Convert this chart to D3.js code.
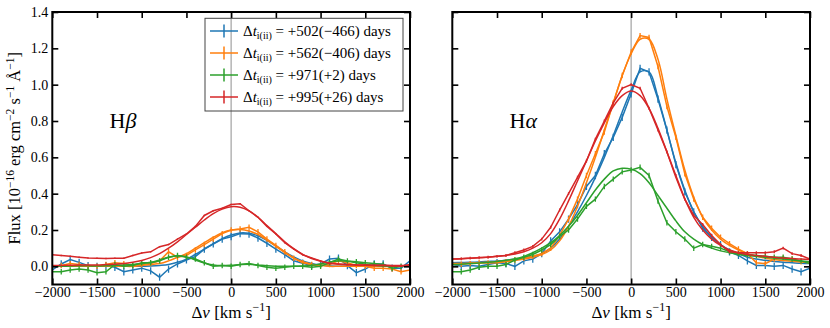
<!DOCTYPE html>
<html>
<head>
<meta charset="utf-8">
<script src="https://cdn.jsdelivr.net/npm/d3@7"></script>
<style>
  body { margin: 0; background: #fff; }
  svg { display: block; font-family: "Liberation Serif", serif; }
</style>
</head>
<body>
<div id="chart"></div>
<script>
// velocity grid (km/s)
var vel = [-2000, -1900, -1800, -1700, -1600, -1500, -1400, -1300, -1200, -1100,
           -1000, -900, -800, -700, -600, -500, -400, -300, -200, -100,
           0, 100, 200, 300, 400, 500, 600, 700, 800, 900,
           1000, 1100, 1200, 1300, 1400, 1500, 1600, 1700, 1800, 1900, 2000];

// H-beta observed and fitted profiles
var hb502 = [-0.02, 0.013, 0.037, 0.022, 0.004, 0.0, 0.004, -0.005, -0.03, -0.02,
             -0.01, -0.025, -0.06, -0.015, 0.013, 0.035, 0.053, 0.095, 0.123, 0.15,
             0.163, 0.18, 0.178, 0.156, 0.127, 0.095, 0.064, 0.031, 0.017, 0.004,
             0.013, 0.04, 0.045, 0.004, -0.035, -0.015, 0.013, 0.013, -0.01, -0.01, 0.031];
var hb502Fit = [0, 0, 0, 0, 0, 0, 0, 0, 0, 0,
                0, 0.002, 0.005, 0.01, 0.022, 0.04, 0.065, 0.095, 0.125, 0.152,
                0.172, 0.184, 0.182, 0.168, 0.143, 0.112, 0.08, 0.052, 0.03, 0.016,
                0.007, 0.003, 0, 0, 0, 0, 0, 0, 0, 0, 0];
var hb562 = [0.0, 0.005, 0.015, 0.01, 0.0, 0.0, 0.01, 0.02, 0.015, 0.005,
             0.01, 0.015, 0.03, 0.08, 0.05, 0.06, 0.09, 0.12, 0.15, 0.18,
             0.2, 0.205, 0.215, 0.19, 0.15, 0.115, 0.08, 0.045, 0.02, 0.01,
             0.005, 0.01, 0.03, 0.02, 0.005, 0.0, -0.01, -0.01, -0.015, -0.03, -0.02];
var hb562Fit = [0, 0, 0, 0, 0, 0, 0, 0, 0, 0,
                0.005, 0.01, 0.015, 0.03, 0.05, 0.07, 0.1, 0.13, 0.16, 0.185,
                0.2, 0.203, 0.195, 0.175, 0.145, 0.11, 0.075, 0.045, 0.025, 0.012,
                0.005, 0, 0, 0, 0, 0, 0, 0, 0, 0, 0];
var hb971 = [-0.03, -0.03, -0.02, -0.015, -0.02, -0.035, -0.03, 0.01, 0.0, 0.005,
             0.02, 0.02, 0.03, 0.05, 0.06, 0.05, 0.04, 0.02, 0.0, 0.005,
             0.0, 0.01, 0.015, 0.005, -0.005, -0.01, -0.005, 0.0, 0.0, -0.005,
             0.0, 0.02, 0.04, 0.03, 0.025, 0.02, 0.015, 0.01, -0.01, 0.0, 0.0];
var hb971Fit = [0.0, 0.0, 0.002, 0.003, 0.003, 0.002, 0.003, 0.005, 0.007, 0.01,
                0.015, 0.022, 0.035, 0.05, 0.058, 0.052, 0.035, 0.018, 0.007, 0.004,
                0.006, 0.01, 0.012, 0.008, 0.003, 0.0, 0.0, 0.0, 0.002, 0.006,
                0.013, 0.024, 0.03, 0.028, 0.02, 0.012, 0.006, 0.002, 0.0, 0.0, 0.0];
var hb995 = [0.064, 0.06, 0.055, 0.05, 0.046, 0.044, 0.043, 0.044, 0.045, 0.06,
             0.073, 0.08, 0.108, 0.12, 0.15, 0.178, 0.22, 0.28, 0.306, 0.32,
             0.34, 0.345, 0.306, 0.27, 0.22, 0.178, 0.13, 0.095, 0.064, 0.046,
             0.03, 0.016, 0.013, 0.01, 0.008, 0.006, 0.005, 0.004, 0.002, 0.0, 0.01];
var hb995Fit = [0.005, 0.005, 0.006, 0.007, 0.007, 0.008, 0.01, 0.012, 0.015, 0.022,
                0.032, 0.048, 0.07, 0.1, 0.135, 0.175, 0.215, 0.255, 0.29, 0.315,
                0.328, 0.325, 0.305, 0.27, 0.225, 0.18, 0.135, 0.097, 0.066, 0.043,
                0.028, 0.018, 0.012, 0.009, 0.008, 0.007, 0.006, 0.006, 0.005, 0.005, 0.005];

// H-alpha observed and fitted profiles
var ha502 = [0.01, 0.0, 0.005, 0.0, 0.01, 0.02, 0.015, 0.0, 0.03, 0.04,
             0.07, 0.14, 0.19, 0.26, 0.34, 0.44, 0.5, 0.62, 0.71, 0.82,
             0.95, 1.09, 1.07, 0.92, 0.75, 0.56, 0.41, 0.3, 0.21, 0.16,
             0.12, 0.08, 0.06, 0.03, 0.005, 0.005, 0.0, 0.005, -0.015, -0.03, -0.01];
var ha502Fit = [0.02, 0.021, 0.022, 0.024, 0.027, 0.03, 0.034, 0.039, 0.045, 0.055,
                0.07, 0.1, 0.15, 0.22, 0.3, 0.39, 0.49, 0.6, 0.72, 0.85,
                0.97, 1.07, 1.07, 0.93, 0.75, 0.57, 0.42, 0.3, 0.22, 0.16,
                0.12, 0.09, 0.07, 0.05, 0.04, 0.033, 0.027, 0.023, 0.02, 0.017, 0.015];
var ha562 = [0.01, 0.012, 0.015, 0.02, 0.018, 0.02, 0.025, 0.035, 0.045, 0.055,
             0.07, 0.1, 0.17, 0.26, 0.37, 0.5, 0.62, 0.74, 0.9, 1.05,
             1.18, 1.27, 1.26, 1.1, 0.88, 0.71, 0.51, 0.37, 0.27, 0.21,
             0.16, 0.125, 0.095, 0.07, 0.02, 0.015, 0.04, 0.045, 0.04, 0.025, 0.02];
var ha562Fit = [0.015, 0.016, 0.018, 0.02, 0.022, 0.025, 0.028, 0.033, 0.04, 0.05,
                0.065, 0.09, 0.14, 0.22, 0.33, 0.46, 0.6, 0.75, 0.9, 1.05,
                1.17, 1.25, 1.25, 1.14, 0.92, 0.72, 0.53, 0.38, 0.27, 0.2,
                0.15, 0.115, 0.09, 0.07, 0.055, 0.045, 0.038, 0.032, 0.028, 0.024, 0.02];
var ha971 = [-0.03, -0.03, -0.02, -0.005, 0.0, 0.0, 0.01, 0.035, 0.05, 0.065,
             0.09, 0.12, 0.165, 0.2, 0.26, 0.33, 0.37, 0.44, 0.48, 0.52,
             0.53, 0.545, 0.5, 0.36, 0.24, 0.19, 0.15, 0.1, 0.12, 0.11,
             0.1, 0.08, 0.07, 0.065, 0.06, 0.055, 0.05, 0.05, 0.04, 0.03, 0.015];
var ha971Fit = [0.01, 0.012, 0.015, 0.018, 0.022, 0.027, 0.033, 0.042, 0.055, 0.075,
                0.1, 0.13, 0.17, 0.22, 0.28, 0.35, 0.42, 0.48, 0.525, 0.54,
                0.535, 0.51, 0.46, 0.39, 0.32, 0.25, 0.19, 0.15, 0.12, 0.1,
                0.085, 0.075, 0.065, 0.06, 0.055, 0.05, 0.045, 0.04, 0.035, 0.03, 0.025];
var ha995 = [0.04, 0.042, 0.045, 0.047, 0.05, 0.055, 0.06, 0.075, 0.09, 0.11,
             0.15, 0.215, 0.31, 0.4, 0.49, 0.58, 0.7, 0.8, 0.9, 0.98,
             1.0, 0.98, 0.87, 0.75, 0.63, 0.5, 0.37, 0.28, 0.23, 0.17,
             0.12, 0.08, 0.075, 0.075, 0.075, 0.075, 0.08, 0.1, 0.07, 0.06, 0.04];
var ha995Fit = [0.04, 0.042, 0.045, 0.048, 0.051, 0.055, 0.06, 0.068, 0.08, 0.1,
                0.13, 0.18, 0.26, 0.36, 0.47, 0.58, 0.69, 0.79, 0.88, 0.94,
                0.965, 0.94, 0.87, 0.76, 0.63, 0.49, 0.37, 0.27, 0.2, 0.15,
                0.115, 0.09, 0.075, 0.065, 0.06, 0.055, 0.05, 0.046, 0.043, 0.04, 0.038];

// error bar half-heights per epoch
var hbErr = [0.02, 0.015, 0.015, 0.004];
var haErr = [0.02, 0.015, 0.015, 0.008];

var epochs = ["+502(\u2212466)", "+562(\u2212406)", "+971(+2)", "+995(+26)"];
var colors = ["#1f77b4", "#ff7f0e", "#2ca02c", "#d62728"];
var xTicks = [-2000, -1500, -1000, -500, 0, 500, 1000, 1500, 2000];
var yTicks = [0.0, 0.2, 0.4, 0.6, 0.8, 1.0, 1.2, 1.4];

document.addEventListener("DOMContentLoaded", function() {
  var width = 830,
      height = 328,
      top = 12,
      bottom = 284.5;

  var svg = d3.select('#chart').append('svg')
    .attr('width', width)
    .attr('height', height);

  var y = d3.scaleLinear().domain([-0.1, 1.4]).range([bottom, top]);

  function drawPanel(left, right, id, obs, fits, errs, letter, showY) {
    var x = d3.scaleLinear().domain([-2000, 2000]).range([left, right]);
    var g = svg.append('g');

    svg.append('clipPath').attr('id', id)
      .append('rect').attr('x', left).attr('y', top)
      .attr('width', right - left).attr('height', bottom - top);

    var plot = g.append('g').attr('clip-path', 'url(#' + id + ')');

    plot.append('line')
      .attr('x1', x(0)).attr('x2', x(0))
      .attr('y1', top).attr('y2', bottom)
      .attr('stroke', '#b4b4b4')
      .attr('stroke-width', 1.5);

    var dataLine = d3.line()
      .x(function(d, i) { return x(vel[i]); })
      .y(function(d) { return y(d); });
    var fitLine = d3.line()
      .curve(d3.curveCatmullRom)
      .x(function(d, i) { return x(vel[i]); })
      .y(function(d) { return y(d); });

    obs.forEach(function(series, k) {
      var s = plot.append('g');
      s.append('path')
        .attr('d', dataLine(series))
        .attr('fill', 'none')
        .attr('stroke', colors[k])
        .attr('stroke-width', 1.5);
      s.selectAll('line')
        .data(series)
        .enter().append('line')
        .attr('x1', function(d, i) { return x(vel[i]); })
        .attr('x2', function(d, i) { return x(vel[i]); })
        .attr('y1', function(d) { return y(d - errs[k]); })
        .attr('y2', function(d) { return y(d + errs[k]); })
        .attr('stroke', colors[k])
        .attr('stroke-width', 1.3);
      s.append('path')
        .attr('d', fitLine(fits[k]))
        .attr('fill', 'none')
        .attr('stroke', colors[k])
        .attr('stroke-width', 1.5);
    });

    // axes with inward ticks
    var ax = [
      d3.axisBottom(x).tickValues(xTicks).tickFormat(d3.format('d')).tickSize(-6).tickPadding(3),
      d3.axisTop(x).tickValues(xTicks).tickFormat('').tickSize(-6),
      d3.axisLeft(y).tickValues(yTicks).tickFormat(showY ? d3.format('.1f') : '').tickSize(-6).tickPadding(4),
      d3.axisRight(y).tickValues(yTicks).tickFormat('').tickSize(-6)
    ];
    var pos = ['translate(0,' + bottom + ')', 'translate(0,' + top + ')',
               'translate(' + left + ',0)', 'translate(' + right + ',0)'];
    ax.forEach(function(a, i) {
      var ag = g.append('g').attr('transform', pos[i]).call(a);
      ag.select('.domain').remove();
      ag.selectAll('.tick line').attr('stroke', '#000').attr('stroke-width', 1.6);
      ag.selectAll('.tick text')
        .attr('fill', '#000')
        .style('font-family', '"Liberation Serif", serif')
        .style('font-size', '14px');
    });

    g.append('rect')
      .attr('x', left).attr('y', top)
      .attr('width', right - left).attr('height', bottom - top)
      .attr('fill', 'none')
      .attr('stroke', '#000')
      .attr('stroke-width', 2);

    // line name
    var lt = g.append('text')
      .attr('x', x(-1360)).attr('y', 127.5)
      .style('font-size', '22px');
    lt.append('tspan').text('H');
    lt.append('tspan').style('font-style', 'italic').text(letter);

    // x label
    var xl = g.append('text')
      .attr('x', (left + right) / 2).attr('y', 318)
      .attr('text-anchor', 'middle')
      .style('font-size', '17px');
    xl.append('tspan').text('\u0394');
    xl.append('tspan').style('font-style', 'italic').text('v');
    xl.append('tspan').text(' [km s');
    xl.append('tspan').attr('dy', -7).style('font-size', '12px').text('\u22121');
    xl.append('tspan').attr('dy', 7).text(']');
  }

  drawPanel(52.3, 410, 'clipL', [hb502, hb562, hb971, hb995],
            [hb502Fit, hb562Fit, hb971Fit, hb995Fit], hbErr, '\u03b2', true);
  drawPanel(452.3, 810, 'clipR', [ha502, ha562, ha971, ha995],
            [ha502Fit, ha562Fit, ha971Fit, ha995Fit], haErr, '\u03b1', false);

  // y label
  var yl = svg.append('text')
    .attr('transform', 'translate(20,' + ((top + bottom) / 2) + ') rotate(-90)')
    .attr('text-anchor', 'middle')
    .style('font-size', '16.5px');
  yl.append('tspan').text('Flux [10');
  yl.append('tspan').attr('dy', -6.5).style('font-size', '11.5px').text('\u221216');
  yl.append('tspan').attr('dy', 6.5).text(' erg cm');
  yl.append('tspan').attr('dy', -6.5).style('font-size', '11.5px').text('\u22122');
  yl.append('tspan').attr('dy', 6.5).text(' s');
  yl.append('tspan').attr('dy', -6.5).style('font-size', '11.5px').text('\u22121');
  yl.append('tspan').attr('dy', 6.5).text(' \u00c5');
  yl.append('tspan').attr('dy', -6.5).style('font-size', '11.5px').text('\u22121');
  yl.append('tspan').attr('dy', 6.5).text(']');

  // legend
  var lg = svg.append('g');
  lg.append('rect')
    .attr('x', 205).attr('y', 18.3)
    .attr('width', 198).attr('height', 92.7)
    .attr('fill', 'none')
    .attr('stroke', '#444')
    .attr('stroke-width', 1);

  epochs.forEach(function(ep, i) {
    var cy = 31 + 22 * i;
    lg.append('line')
      .attr('x1', 210).attr('x2', 238).attr('y1', cy).attr('y2', cy)
      .attr('stroke', colors[i]).attr('stroke-width', 1.5);
    lg.append('line')
      .attr('x1', 224).attr('x2', 224).attr('y1', cy - 6.5).attr('y2', cy + 6.5)
      .attr('stroke', colors[i]).attr('stroke-width', 1.5);
    var t = lg.append('text')
      .attr('x', 243).attr('y', cy + 4.5)
      .style('font-size', '15px');
    t.append('tspan').text('\u0394');
    t.append('tspan').style('font-style', 'italic').text('t');
    t.append('tspan').attr('dy', 3.5).style('font-size', '10px').text('i(ii)');
    t.append('tspan').attr('dy', -3.5).text(' = ' + ep + ' days');
  });
});
</script>
</body>
</html>
